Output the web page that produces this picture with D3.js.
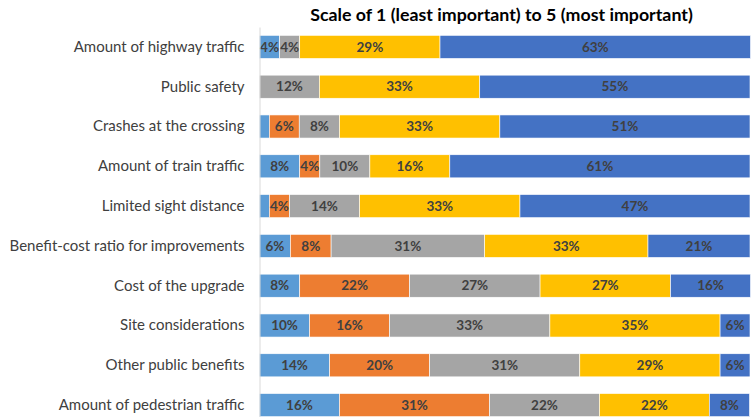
<!DOCTYPE html>
<html><head><meta charset="utf-8">
<script src="https://cdn.jsdelivr.net/npm/d3@7/dist/d3.min.js"></script>
<style>body{margin:0;background:#fff}svg{display:block}</style>
</head><body>
<svg id="chart" width="752" height="417"></svg>
<script>
const title = "Scale of 1 (least important) to 5 (most important)";
const categories = ["Amount of highway traffic","Public safety","Crashes at the crossing","Amount of train traffic","Limited sight distance","Benefit-cost ratio for improvements","Cost of the upgrade","Site considerations","Other public benefits","Amount of pedestrian traffic"];
const seriesNames = ["1","2","3","4","5"];
const colors = ["#5B9BD5","#ED7D31","#A5A5A5","#FFC000","#4472C4"];
// percentage of respondents per rating
const s1 = [4.1, 0,   2.0, 8.2, 2.0, 6.3,  8.2, 10.2, 14.3, 16.3];
const s2 = [0,   0,   6.1, 4.1, 4.1, 8.3, 22.4, 16.3, 20.4, 30.6];
const s3 = [4.1, 12.2, 8.2, 10.2, 14.3, 31.3, 26.6, 32.7, 30.6, 22.4];
const s4 = [28.6, 32.7, 32.7, 16.3, 32.7, 33.3, 26.6, 34.7, 28.6, 22.4];
const s5 = [63.3, 55.1, 51.0, 61.2, 46.9, 20.8, 16.3, 6.1, 6.1, 8.2];
const seriesVals = [s1,s2,s3,s4,s5];

const svg = d3.select("#chart");
const x = d3.scaleLinear().domain([0,100]).range([259.5, 750]);
const y = d3.scaleBand().domain(categories).range([27, 425]).paddingInner(0.42).paddingOuter(0.21);

const rows = categories.map((c,i)=>{ const o={cat:c, idx:i}; seriesNames.forEach((s,j)=>o[s]=seriesVals[j][i]); return o; });
const stacked = d3.stack().keys(seriesNames)(rows);

svg.append("text").attr("x", 501.5).attr("y", 21).attr("text-anchor","middle")
  .attr("font-family","Lato, 'Open Sans', sans-serif").attr("font-weight","bold").attr("font-size","17.8px")
  .attr("fill","#000").text(title);

const g = svg.append("g");
stacked.forEach((layer, j)=>{
  g.append("g").selectAll("rect").data(layer).join("rect")
    .attr("x", d=>x(d[0])).attr("width", d=>Math.max(0, x(d[1])-x(d[0])))
    .attr("y", d=>y(d.data.cat)).attr("height", y.bandwidth())
    .attr("fill", colors[j]).attr("stroke","#fff").attr("stroke-width",0.6);
});
stacked.forEach((layer, j)=>{
  g.append("g").selectAll("text").data(layer.filter(d=>seriesVals[j][d.data.idx] >= 3)).join("text")
    .attr("x", d=>x((d[0]+d[1])/2)).attr("y", d=>y(d.data.cat)+y.bandwidth()/2)
    .attr("dy","0.35em").attr("text-anchor","middle")
    .attr("font-family","Lato, 'Open Sans', sans-serif").attr("font-weight","bold").attr("font-size","13.5px")
    .attr("fill","#404040").text(d=>Math.round(seriesVals[j][d.data.idx])+"%");
});

// axis
const yAxis = d3.axisLeft(y).tickSize(0).tickPadding(15);
const ax = svg.append("g").attr("transform","translate(259.5,0)").call(yAxis);
ax.select(".domain").attr("stroke","#D9D9D9");
ax.selectAll("text").attr("font-family","Lato, 'Open Sans', sans-serif").attr("font-size","15px").attr("fill","#404040");
</script>
</body></html>
